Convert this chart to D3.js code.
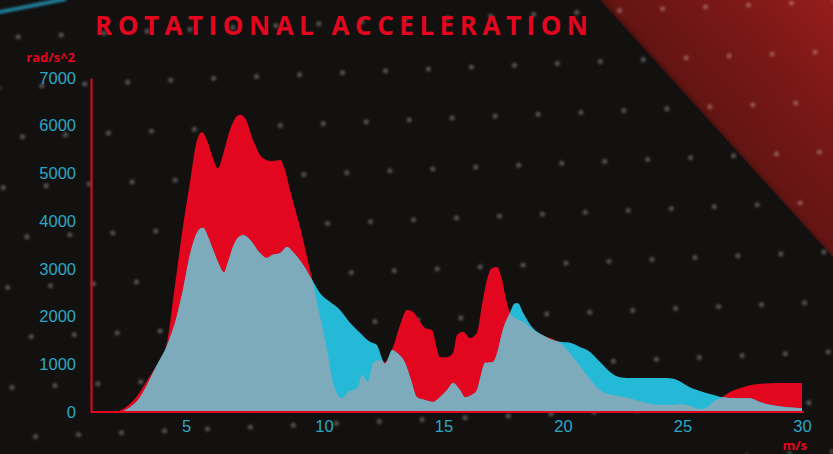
<!DOCTYPE html>
<html>
<head>
<meta charset="utf-8">
<script src="https://cdn.jsdelivr.net/npm/d3@7"></script>
<style>
  html, body { margin: 0; padding: 0; background: #13110f; overflow: hidden; }
  svg { display: block; font-family: "Open Sans", sans-serif; }
  .axis text { fill: #2aa7c5; font-size: 16.5px; }
  .axis path { stroke: #e2061f; stroke-width: 2px; }
  .unit { fill: #e2061f; font-size: 13px; font-weight: 700; }
</style>
</head>
<body>
<svg id="chart" width="833" height="454"></svg>
<script>
// tick labels
const speedTicks = [5, 10, 15, 20, 25, 30];
const accelTicks = [0, 1000, 2000, 3000, 4000, 5000, 6000, 7000];

// red series (m/s, rad/s^2)
const redSpeed = [1.37, 2.21, 3.11, 3.63, 4.0, 4.32, 4.53, 4.79, 5.14, 5.40, 5.58, 5.76, 5.98, 6.16, 6.34, 6.59, 6.81, 6.96, 7.14, 7.43,
  7.79, 8.12, 8.41, 8.59, 8.77, 9.13, 9.57, 9.86, 10.13, 10.38, 10.75, 11.0, 11.42, 11.59, 11.84, 12.05, 12.34, 12.55, 12.89, 13.18,
  13.47, 13.72, 14.02, 14.23, 14.52, 14.69, 14.85, 15.15, 15.40, 15.56, 15.82, 16.11, 16.40, 16.61, 16.82, 17.03, 17.24, 17.45, 17.62, 17.78,
  17.99, 18.33, 18.74, 19.16, 19.46, 19.87, 20.42, 20.84, 21.26, 21.67, 22.26, 22.80, 23.35, 23.93, 24.60, 24.90, 25.31, 25.73, 26.03, 26.28,
  26.65, 26.99, 27.53, 28.24, 28.95, 30.0];
const redAccel = [0, 230, 760, 1100, 1450, 2350, 2980, 3750, 4800, 5700, 5870, 5700, 5320, 5110, 5390, 5910, 6180, 6230, 6160, 5700,
  5320, 5260, 5280, 5070, 4650, 3880, 2770, 1990, 1300, 610, 290, 420, 520, 780, 630, 1030, 1090, 1050, 1360, 1820,
  2140, 2100, 1890, 1760, 1720, 1400, 1150, 1150, 1240, 1610, 1680, 1550, 1660, 2240, 2770, 3020, 3040, 2770, 2350, 2080,
  1970, 1890, 1720, 1610, 1550, 1450, 1150, 880, 610, 420, 340, 290, 210, 150, 150, 170, 130, 60, 100, 210,
  310, 420, 520, 590, 610, 610];

// cyan series (m/s, rad/s^2)
const cyanSpeed = [1.63, 2.58, 3.47, 4.0, 4.53, 4.84, 5.14, 5.33, 5.51, 5.62, 5.80, 5.98, 6.16, 6.38, 6.52, 6.70, 6.88, 7.07, 7.32, 7.68,
  7.93, 8.12, 8.41, 8.66, 8.88, 9.20, 9.57, 9.86, 10.25, 10.67, 11.09, 11.51, 11.92, 12.22, 12.38, 12.55, 12.85, 13.05, 13.39, 13.64,
  13.89, 14.23, 14.56, 14.85, 15.15, 15.40, 15.69, 15.90, 16.19, 16.40, 16.57, 16.74, 17.07, 17.28, 17.45, 17.78, 17.99, 18.12, 18.33, 18.74,
  19.16, 19.46, 19.87, 20.29, 20.71, 21.13, 21.55, 21.97, 22.38, 22.93, 23.64, 24.35, 24.77, 25.31, 25.86, 26.28, 26.65, 27.28, 27.82, 28.24,
  28.66, 29.37, 30.0];
const cyanAccel = [0, 310, 990, 1400, 2030, 2560, 3290, 3670, 3840, 3860, 3670, 3400, 3140, 2930, 3140, 3460, 3650, 3710, 3610, 3330,
  3230, 3290, 3330, 3460, 3350, 3120, 2770, 2490, 2310, 2140, 1870, 1660, 1470, 1400, 1190, 1010, 1300, 1240, 1030, 670,
  310, 250, 210, 310, 460, 610, 460, 310, 360, 460, 780, 1030, 1050, 1300, 1660, 2080, 2280, 2280, 2080, 1760,
  1610, 1530, 1470, 1450, 1360, 1260, 1050, 840, 730, 710, 710, 710, 670, 520, 420, 360, 310, 290, 290, 210,
  150, 100, 80];

const W = 833, H = 454;
const red = "#e2061f", cyan = "#25b9d8", overlap = "#7eabbc";

const svg = d3.select("#chart");
const defs = svg.append("defs");

// background
svg.append("rect").attr("width", W).attr("height", H).attr("fill", "#13110f");

const grad = defs.append("linearGradient").attr("id", "cornerGrad")
  .attr("gradientUnits", "userSpaceOnUse")
  .attr("x1", 716).attr("y1", 128).attr("x2", 845).attr("y2", 12);
grad.append("stop").attr("offset", 0).attr("stop-color", "#4a100f");
grad.append("stop").attr("offset", 0.03).attr("stop-color", "#641513");
grad.append("stop").attr("offset", 0.5).attr("stop-color", "#791816");
grad.append("stop").attr("offset", 1).attr("stop-color", "#961d1b");

svg.append("path")
  .attr("d", `M600,0 L${W},0 L${W},257 Z`)
  .attr("fill", "url(#cornerGrad)");

// streak top left
defs.append("filter").attr("id", "soft").append("feGaussianBlur").attr("stdDeviation", 1.2);
svg.append("line")
  .attr("x1", -5).attr("y1", 13).attr("x2", 66).attr("y2", -1)
  .attr("stroke", "#1e7c96").attr("stroke-width", 4)
  .attr("filter", "url(#soft)");

// dotted texture
const pat = defs.append("pattern").attr("id", "dots")
  .attr("patternUnits", "userSpaceOnUse")
  .attr("width", 43).attr("height", 100)
  .attr("patternTransform", "translate(14,33) rotate(-2.5)");
pat.append("circle").attr("cx", 4).attr("cy", 4).attr("r", 2.6);
pat.append("circle").attr("cx", 25.5).attr("cy", 54).attr("r", 2.6);
pat.selectAll("circle").attr("fill", "#ffffff").attr("fill-opacity", 0.26);
defs.append("filter").attr("id", "dotBlur").append("feGaussianBlur").attr("stdDeviation", 1);
svg.append("rect").attr("width", W).attr("height", H)
  .attr("fill", "url(#dots)").attr("filter", "url(#dotBlur)");

// scales
const x = d3.scaleLinear().domain([0, 5, 10, 30]).range([91, 186, 324, 802]);
const y = d3.scaleLinear().domain([0, 7000]).range([412, 78]);

const redData = d3.zip(redSpeed, redAccel);
const cyanData = d3.zip(cyanSpeed, cyanAccel);

const area = d3.area()
  .x(d => x(d[0]))
  .y0(y(0))
  .y1(d => y(d[1]))
  .curve(d3.curveMonotoneX);

defs.append("clipPath").attr("id", "redClip")
  .append("path").attr("d", area(redData));

svg.append("path").attr("d", area(redData)).attr("fill", red);
svg.append("path").attr("d", area(cyanData)).attr("fill", cyan);
svg.append("path").attr("d", area(cyanData)).attr("fill", overlap)
  .attr("clip-path", "url(#redClip)");

// axes
const xAxis = svg.append("g").attr("class", "axis")
  .attr("transform", `translate(0,${y(0)})`)
  .call(d3.axisBottom(x).tickValues(speedTicks).tickSize(0).tickPadding(8));
xAxis.select(".domain").attr("d", `M${x.range()[0]},0H${x(30) + 2}`);

svg.append("g").attr("class", "axis")
  .attr("transform", `translate(${x(0)},0)`)
  .call(d3.axisLeft(y).tickValues(accelTicks).tickFormat(d3.format("d")).tickSize(0).tickPadding(15));

svg.selectAll(".axis text").attr("font-family", null);

// units
svg.append("text").attr("class", "unit")
  .attr("x", 75).attr("y", 62).attr("text-anchor", "end")
  .text("rad/s^2");
svg.append("text").attr("class", "unit")
  .attr("x", 807).attr("y", 450).attr("text-anchor", "end")
  .text("m/s");

// title, spread to the reference width
const title = svg.append("text")
  .attr("x", 95).attr("y", 35)
  .attr("fill", red)
  .style("font-size", "26px").style("font-weight", 700)
  .text("ROTATIONAL ACCELERATION");
const natural = title.node().getComputedTextLength();
const n = "ROTATIONAL ACCELERATION".length;
title.style("letter-spacing", ((493 - natural) / (n - 1)) + "px");
</script>
</body>
</html>
